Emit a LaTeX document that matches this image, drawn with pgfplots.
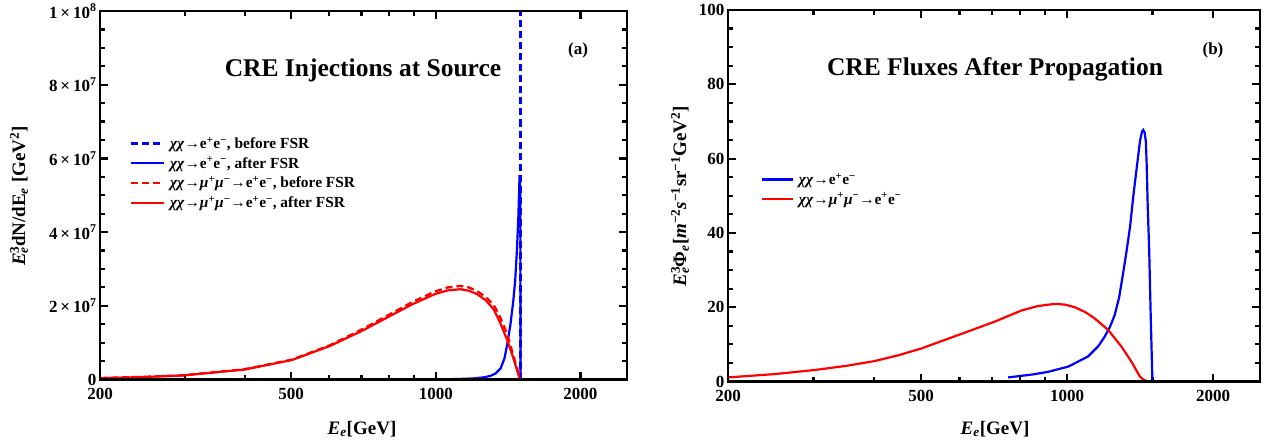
\documentclass[border=0pt]{standalone}
\usepackage{pgfplots}
\pgfplotsset{compat=1.18}
\usepackage{fontspec}
\setmainfont{Liberation Serif}
\newcommand{\ee}{e\textsuperscript{+}e\textsuperscript{−}}
\newcommand{\mm}{\textit{μ}\textsuperscript{+}\textit{μ}\textsuperscript{−}}
\newcommand{\xx}{\textit{χχ}}
\tikzset{legline/.style={}, leglineb/.style={}}
\pgfplotsset{
  legline/.style={legend image code/.code={\draw[##1] (0pt,0pt) -- (33pt,0pt);}},
  leglineb/.style={legend image code/.code={\draw[##1] (0pt,0pt) -- (31pt,0pt);}}
}
\begin{document}
\begin{tikzpicture}
\path (0pt,0pt) rectangle (1273pt,445pt);
% ---------------- left panel ----------------
\begin{axis}[name=L, scale only axis, anchor=south west,
    xmode=log, xmin=200, xmax=2500,
    xtick={200,500,1000,2000}, xticklabels={200,500,1000,2000},
    minor xtick={300,400,600,700,800,900,1500},
    every tick/.style={black, line width=2.2pt},
    major tick length=8pt, minor tick length=5pt,
    tick align=inside,
    tick label style={font=\bfseries\fontsize{17}{17}\selectfont},
    xticklabel style={yshift=-5pt},
    scaled y ticks=false,
    minor y tick num=3,
    legend cell align=left,
    legend style={draw=none, fill=none, anchor=north west, inner sep=0pt,
      font=\bfseries\fontsize{15.4}{15.4}\selectfont, row sep=3pt, column sep=3pt},
  at={(100pt,65.5pt)}, width=527pt, height=368.5pt,
  ymin=0, ymax=1e8, ytick={0,2e7,4e7,6e7,8e7,1e8},
  yticklabels={0,{2\,×\,10\textsuperscript{7}},{4\,×\,10\textsuperscript{7}},{6\,×\,10\textsuperscript{7}},{8\,×\,10\textsuperscript{7}},{1\,×\,10\textsuperscript{8}}},
  legend style={at={(0.056,0.664)}}]
\addplot[legline, blue, line width=2.3pt, dash pattern=on 7pt off 4pt] coordinates {(1500,0) (1500,1e8)};
\addlegendentry{\xx→\ee, before FSR}
\addplot[legline, blue, line width=2.2pt] coordinates {
(1000,0.05e6) (1100,0.12e6) (1200,0.3e6) (1260,0.6e6) (1300,1.0e6) (1330,1.6e6)
(1364,3.0e6) (1390,5.8e6) (1410,10e6) (1430,15e6) (1450,21.5e6) (1463,27e6)
(1475,35e6) (1485,44e6) (1491,52e6) (1494,55.5e6) (1497,54e6) (1499.5,48e6) (1500,0)};
\addlegendentry{\xx→\ee, after FSR}
\addplot[legline, red, line width=2.3pt, dash pattern=on 7pt off 4pt] coordinates {
(200,0.4e6) (250,0.75e6) (298,1.15e6) (400,2.8e6) (502,5.4e6) (602,9.3e6)
(702,13.6e6) (802,17.7e6) (893,21.0e6) (996,23.9e6) (1060,25.0e6) (1125,25.4e6)
(1170,25.0e6) (1218,24.0e6) (1270,22.4e6) (1319,20.3e6) (1360,17.0e6)
(1406,12.5e6) (1450,6.5e6) (1500,0)};
\addlegendentry{\xx→\mm→\ee, before FSR}
\addplot[legline, red, line width=2.2pt] coordinates {
(200,0.35e6) (250,0.7e6) (298,1.1e6) (400,2.7e6) (502,5.3e6) (602,9.1e6)
(702,13.2e6) (802,17.2e6) (893,20.4e6) (996,23.2e6) (1060,24.2e6) (1125,24.5e6)
(1170,24.1e6) (1218,23.2e6) (1270,21.5e6) (1319,19.1e6) (1360,15.5e6)
(1406,10.9e6) (1450,5.8e6) (1493,0.4e6) (1500,0)};
\addlegendentry{\xx→\mm→\ee, after FSR}
\end{axis}
% ---------------- right panel ----------------
\begin{axis}[name=R, scale only axis, anchor=south west,
    xmode=log, xmin=200, xmax=2500,
    xtick={200,500,1000,2000}, xticklabels={200,500,1000,2000},
    minor xtick={300,400,600,700,800,900,1500},
    every tick/.style={black, line width=2.2pt},
    major tick length=8pt, minor tick length=5pt,
    tick align=inside,
    tick label style={font=\bfseries\fontsize{17}{17}\selectfont},
    xticklabel style={yshift=-5pt},
    scaled y ticks=false,
    minor y tick num=3,
    legend cell align=left,
    legend style={draw=none, fill=none, anchor=north west, inner sep=0pt,
      font=\bfseries\fontsize{15.4}{15.4}\selectfont, row sep=3pt, column sep=3pt},
  at={(728pt,63.5pt)}, width=532pt, height=371.5pt,
  ymin=0, ymax=100, ytick={0,20,40,60,80,100},
  yticklabels={0,20,40,60,80,100},
  legend style={at={(0.061,0.567)}}]
\addplot[leglineb, blue, line width=2.2pt] coordinates {
(756,1.1) (850,1.9) (914,2.6) (1005,4.0) (1104,6.7) (1160,9.5) (1196,12.1)
(1227,14.8) (1254,17.9) (1280,22.5) (1305,29.1) (1328,35.5) (1349,41.7)
(1370,50) (1393,57.8) (1415,65) (1428,67.3) (1436,67.7) (1446,67.0) (1454,64.5) (1460,58)
(1467,47) (1477,35.4) (1488,17.4) (1500,0)};
\addlegendentry{\xx→\ee}
\addplot[leglineb, red, line width=2.2pt] coordinates {
(200,1.1) (250,2.0) (302,3.1) (350,4.2) (401,5.5) (450,7.1) (501,8.9) (605,12.8)
(709,16.1) (805,19.1) (870,20.3) (943,20.9) (990,20.7) (1037,20.0) (1090,18.7)
(1140,17.0) (1215,13.9) (1295,9.4) (1358,5.3) (1390,3.0) (1414,1.3)
(1440,0.4) (1470,0.05) (1500,0)};
\addlegendentry{\xx→\mm→\ee}
\end{axis}
% ---------------- frames ----------------
\draw[line width=2.8pt] (L.south west) rectangle (L.north east);
\draw[line width=2.8pt] (R.south west) rectangle (R.north east);
% ---------------- texts ----------------
\node[font=\bfseries\fontsize{25.5}{25.5}\selectfont] at (363pt,375pt) {CRE Injections at Source};
\node[font=\bfseries\fontsize{25.5}{25.5}\selectfont] at (995pt,376pt) {CRE Fluxes After Propagation};
\node[font=\bfseries\fontsize{17}{17}\selectfont] at (578pt,395pt) {(a)};
\node[font=\bfseries\fontsize{17}{17}\selectfont] at (1213pt,395pt) {(b)};
\node[font=\bfseries\fontsize{19}{19}\selectfont] at (362pt,16pt) {\textit{E}\textsubscript{\textit{e}}[GeV]};
\node[font=\bfseries\fontsize{19}{19}\selectfont] at (995pt,16pt) {\textit{E}\textsubscript{\textit{e}}[GeV]};
\node[font=\bfseries\fontsize{19}{19}\selectfont, rotate=90] at (19pt,249pt)
  {\textit{E}\rlap{\textsuperscript{3}}\textsubscript{\textit{e}}dN/dE\textsubscript{\textit{e}} [GeV\textsuperscript{2}]};
\node[font=\bfseries\fontsize{19}{19}\selectfont, rotate=90] at (680pt,249pt)
  {\textit{E}\rlap{\textsuperscript{3}}\textsubscript{\textit{e}}Φ\textsubscript{\textit{e}}[\textit{m}\textsuperscript{−2}\textit{s}\textsuperscript{−1}sr\textsuperscript{−1}GeV\textsuperscript{2}]};
\end{tikzpicture}
\end{document}
